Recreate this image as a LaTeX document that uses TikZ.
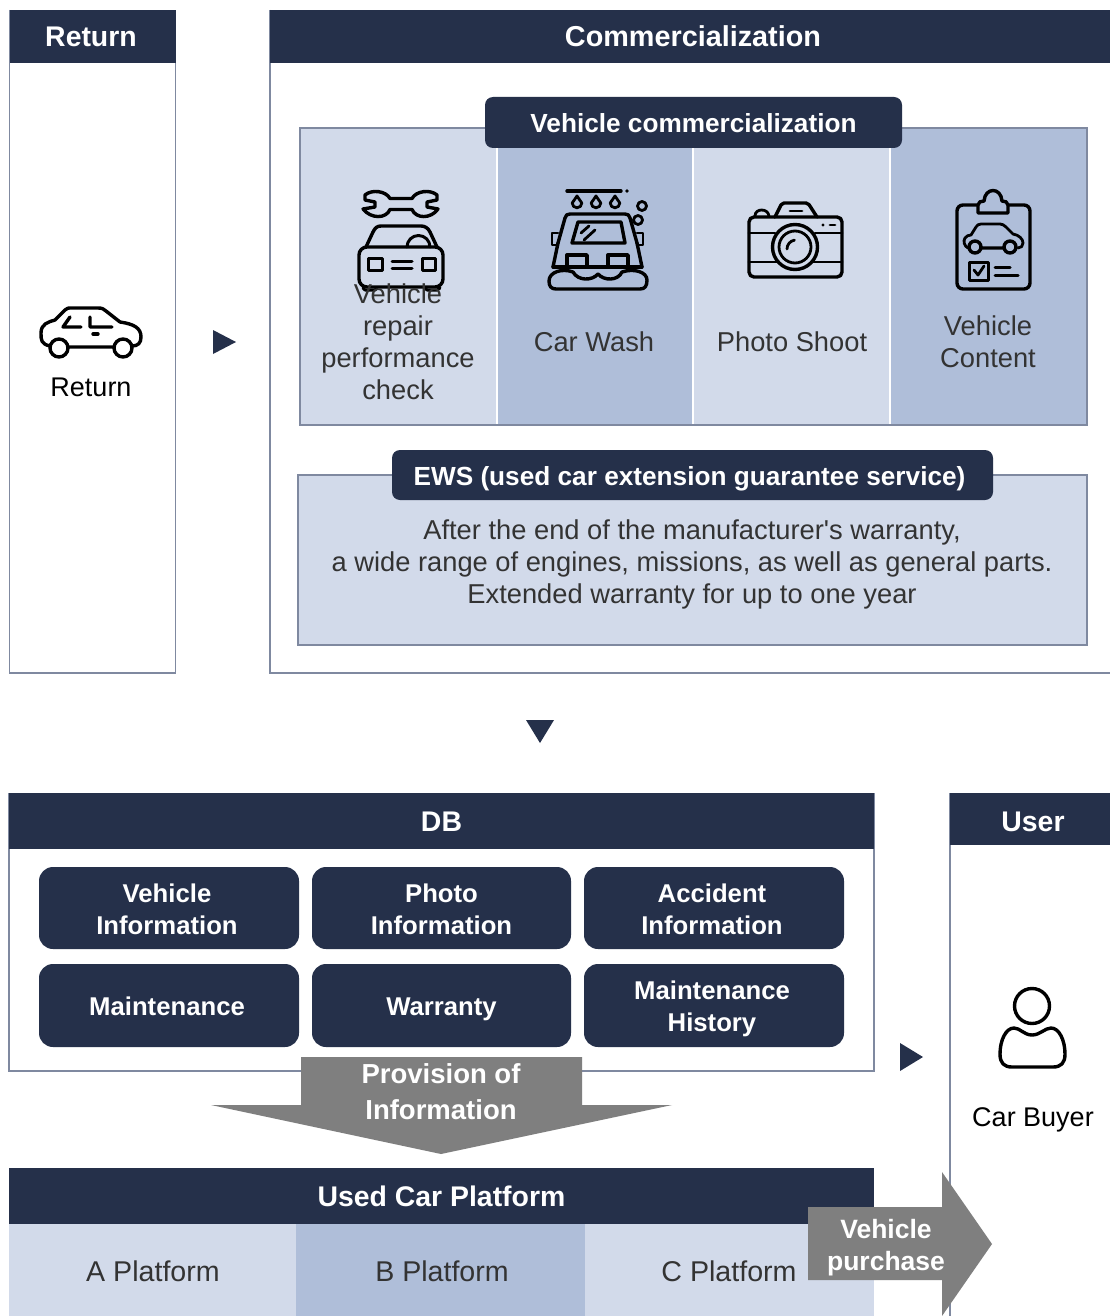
\documentclass[tikz,border=0pt]{standalone}
\usepackage{fontspec}
\setmainfont{Liberation Sans}
\definecolor{navy}{HTML}{25304A}
\definecolor{lightblue}{HTML}{D2DAEA}
\definecolor{midblue}{HTML}{AFBED9}
\definecolor{edge}{HTML}{7F89A0}
\definecolor{bodytext}{HTML}{333333}
\definecolor{grayarrow}{HTML}{7F7F7F}
\newcommand{\rbox}[7]{%
  \pgfmathsetlengthmacro{\rboxw}{(#5-#3)*1pt}%
  \pgfmathsetlengthmacro{\rboxh}{(#6-#4)*1pt}%
  \node[#1,anchor=north west,minimum width=\rboxw,minimum height=\rboxh] (#2) at (#3,#4) {#7};}
\newcommand{\lnstrut}{\rule[-6pt]{0pt}{32pt}}
\newcommand{\nudge}[1]{\hspace*{#1pt}}
\tikzset{
  x=1pt,y=-1pt,
  base/.style={inner sep=0pt,outer sep=0pt,align=center,execute at begin node={\lnstrut},execute at end node={\lnstrut}},
  header/.style={base,fill=navy,text=white,font=\fontsize{28.4}{32}\selectfont\bfseries},
  badge/.style={header,rounded corners=8pt,font=\fontsize{26.2}{32}\selectfont\bfseries},
  dbitem/.style={header,rounded corners=14pt,font=\fontsize{25.7}{32}\selectfont\bfseries},
  band/.style={base,fill=#1},
  label/.style={base,text=bodytext,font=\fontsize{27.3}{32}\selectfont},
  platlabel/.style={base,text=bodytext,font=\fontsize{28.6}{32}\selectfont},
  darklabel/.style={base,text=black,font=\fontsize{27}{32}\selectfont},
  tri/.style={fill=navy,draw=none},
  bigarrow/.style={fill=grayarrow,draw=none},
  arrowtext/.style={base,text=white,font=\fontsize{26.5}{32}\selectfont\bfseries},
  icon/.style={draw=black,line width=3.4pt,line cap=round,line join=round,fill=none},
  iconthin/.style={icon,line width=2.8pt},
}
\begin{document}
\begin{tikzpicture}
\useasboundingbox (0,0) rectangle (1110,1316);
\fill[white] (0,0) rectangle (1110,1316);
\clip (0,0) rectangle (1110,1316);
% Return panel
\draw[edge,line width=1.2pt] (9.5,10) -- (9.5,673) -- (175.5,673) -- (175.5,10);
\rbox{header}{rethead}{10}{10}{176}{63}{\nudge{-4}Return}
% Commercialization panel
\draw[edge,line width=1.2pt] (270,10) -- (270,673) -- (1110,673);
\rbox{header,font=\fontsize{28.8}{32}\selectfont\bfseries}{comhead}{270}{10}{1110}{63}{\nudge{6}Commercialization}
% Vehicle commercialization band
\rbox{band=lightblue}{col1}{300}{128}{496}{425}{}
\rbox{band=midblue}{col2}{498}{128}{692}{425}{}
\rbox{band=lightblue}{col3}{694}{128}{889}{425}{}
\rbox{band=midblue}{col4}{891}{128}{1087}{425}{}
\draw[edge,line width=1.2pt] (300,128) rectangle (1087,425);
\rbox{badge}{vcbadge}{485}{97}{902}{148}{Vehicle commercialization}
% EWS
\rbox{band=lightblue}{ewsbox}{298}{475}{1087}{645}{}
\draw[edge,line width=1.2pt] (298,475) rectangle (1087,645);
\rbox{badge}{ewsbadge}{392}{450}{993}{500}{\nudge{-6}EWS (used car extension guarantee service)}
\node[label] (ewstext) at (692,561) {\lnstrut After the end of the manufacturer\textquotesingle s warranty,\\a wide range of engines, missions, as well as general parts.\\Extended warranty for up to one year};
% triangles
\fill[tri] (213,330) -- (236,342) -- (213,354) -- cycle;
\fill[tri] (526,720) -- (554,720) -- (540,743) -- cycle;
\fill[tri] (900,1043) -- (923,1057) -- (900,1071) -- cycle;
% DB panel
\draw[edge,line width=1.2pt] (9,793) -- (9,1071) -- (874,1071) -- (874,793);
\rbox{header}{dbhead}{9}{793}{874}{849}{DB}
\rbox{dbitem}{db1}{39}{867}{299}{949}{\lnstrut\nudge{-4}Vehicle\\\nudge{-4}Information}
\rbox{dbitem}{db2}{312}{867}{571}{949}{\lnstrut Photo\\Information}
\rbox{dbitem}{db3}{584}{867}{844}{949}{\lnstrut\nudge{-4}Accident\\\nudge{-4}Information}
\rbox{dbitem}{db4}{39}{964}{299}{1047}{\nudge{-4}Maintenance}
\rbox{dbitem}{db5}{312}{964}{571}{1047}{Warranty}
\rbox{dbitem}{db6}{584}{964}{844}{1047}{\lnstrut\nudge{-4}Maintenance\\\nudge{-4}History}
% provision arrow
\fill[bigarrow] (301,1057) -- (582,1057) -- (582,1105) -- (672,1105) -- (441,1154) -- (211,1105) -- (301,1105) -- cycle;
\node[arrowtext,font=\fontsize{27.5}{36}\selectfont\bfseries] (provision) at (441,1091) {\lnstrut Provision of\\Information};
% platform
\rbox{band=lightblue}{plata}{9}{1224}{296}{1316}{}
\rbox{band=midblue}{platb}{296}{1224}{585}{1316}{}
\rbox{band=lightblue}{platc}{585}{1224}{874}{1316}{}
\rbox{header}{plathead}{9}{1168}{874}{1224}{Used Car Platform}
\node[platlabel] (plataT) at (153,1271) {A Platform};
\node[platlabel] (platbT) at (442,1271) {B Platform};
\node[platlabel] (platcT) at (729,1271) {C Platform};
% user
\draw[edge,line width=1.2pt] (950,793) -- (950,1316);
\rbox{header}{userhead}{950}{793}{1110}{845}{\nudge{6}\raisebox{-2pt}{User}}
\node[darklabel] (buyer) at (1033,1116) {Car Buyer};
% purchase arrow
\fill[bigarrow] (808,1207) -- (942,1207) -- (942,1172) -- (992,1244) -- (942,1316) -- (942,1280) -- (808,1280) -- cycle;
\node[arrowtext] (purchase) at (886,1244) {\lnstrut Vehicle\\purchase};
% ---- icons ----
% return car
\draw[icon] (50,346) .. controls (41,344) and (41,340) .. (41,333) .. controls (41,324) and (48,322) .. (55,320) -- (65,310) .. controls (67,308) and (68,308) .. (72,308) -- (98,308) .. controls (102,308) and (104,309) .. (106,311) -- (120,322) .. controls (134,324) and (141,328) .. (141,337) .. controls (141,343) and (138,346) .. (132,346);
\draw[icon] (59,348) circle (9) (123,348) circle (9) (68,347) -- (114,347);
\draw[icon] (70,317) -- (63,327) -- (81,327) (90,317) -- (90,327) -- (112,327);
\draw[icon] (93,334) -- (98,334);
\node[darklabel] (returnT) at (91,386) {Return};
% wrench + car
\draw[icon] (390,198.5) -- (412,198.5) .. controls (416,191) and (430,189) .. (437,195) -- (437,200) -- (427,202) -- (427,207) -- (438,209) .. controls (431,219) and (416,219) .. (412,209.5) -- (390,209.5) .. controls (386,219) and (371,219) .. (363,209) -- (375,207) -- (375,202) -- (365,200) -- (365,195) .. controls (372,189) and (386,191) .. (390,198.5) -- cycle;
\draw[icon] (366,247) -- (373,232) .. controls (375,228) and (377,226) .. (381,226) -- (421,226) .. controls (425,226) and (428,228) .. (430,232) -- (437,247);
\draw[icon,rounded corners=8pt] (359,247) rectangle (443,287);
\draw[icon,line width=3pt] (368,258) rectangle (382,270) (422,258) rectangle (435,270);
\draw[icon,line width=3pt] (392,261) -- (412,261) (392,268) -- (412,268);
\draw[icon,line width=3pt] (363,288) -- (365,290) -- (375,290) -- (377,288) (425,288) -- (427,290) -- (437,290) -- (440,288);
\draw[icon,line width=3pt] (407,247) arc[start angle=180,end angle=360,radius=11.5];
% car wash
\draw[icon] (567,191) -- (621,191);
\fill[black] (627,191) circle (1.8);
\foreach \dx in {577,596,615}{
  \draw[iconthin] (\dx,196) -- (\dx+4.8,203) arc[start angle=0,end angle=180,radius=4.8] -- cycle;
}
\draw[iconthin] (642,206) circle (4.5) (638,220) circle (4.5);
\draw[icon] (558,243) -- (565,218) .. controls (566,215) and (567,214) .. (570,214) -- (625,214) .. controls (628,214) and (629,215) .. (630,218) -- (637,243);
\draw[icon] (578,222) -- (621,222) -- (625,243) -- (572,243) -- cycle;
\draw[iconthin] (581,233) -- (589,226) (584,240) -- (595,230);
\draw[iconthin] (558,233) -- (552,233) -- (552,245) -- (558,245) (637,233) -- (643,233) -- (643,245) -- (637,245);
\draw[icon] (558,243) -- (553,267) (642,267) -- (637,243);
\draw[icon] (553,267) -- (642,267);
\draw[icon] (567,267) -- (567,255) -- (587,255) -- (587,267) (608,267) -- (608,255) -- (628,255) -- (628,267);
\fill[midblue] (560,270) rectangle (636,278);
\draw[icon] (573,272) .. controls (562,268) and (549,272) .. (549,281) .. controls (549,286) and (551,289) .. (556,289) -- (640,289) .. controls (645,289) and (647,286) .. (647,280) .. controls (647,272) and (634,268) .. (622,272) .. controls (618,281) and (604,281) .. (598,274) .. controls (592,281) and (578,281) .. (573,272);
% camera
\draw[icon,rounded corners=5pt] (749,217) rectangle (842,277);
\fill[lightblue] (795,247) circle (24);
\draw[iconthin] (749,233) -- (775,233) (815,233) -- (842,233) (749,262) -- (777,262) (813,262) -- (842,262);
\draw[icon] (795,247) circle (22.5);
\draw[iconthin] (795,247) circle (16);
\draw[iconthin] (787,249) arc[start angle=180,end angle=260,radius=9];
\draw[icon,rounded corners=2pt] (775,217) -- (782,203) -- (808,203) -- (817,217);
\draw[iconthin] (790,211) -- (802,211);
\draw[iconthin] (755,216) .. controls (755,208) and (768,208) .. (769,216);
\fill[black] (823,225) circle (1.6);
\draw[iconthin] (830,225) -- (835,225);
% clipboard
\draw[icon,rounded corners=6pt] (978,205) -- (957,205) -- (957,289) -- (1030,289) -- (1030,205) -- (1008,205);
\draw[icon] (978,213) -- (1008,213) -- (1008,205) .. controls (1008,202) and (1005,201) .. (1002,201) .. controls (1001,187) and (985,187) .. (984,201) .. controls (981,201) and (978,202) .. (978,205) -- cycle;
\draw[iconthin] (968,248) .. controls (964,246) and (963,241) .. (965,238) .. controls (966,236) and (969,235) .. (971,235) -- (976,227) .. controls (977,225) and (979,224) .. (981,224) -- (1000,224) .. controls (1002,224) and (1004,225) .. (1006,227) -- (1013,234) .. controls (1019,235) and (1023,239) .. (1023,243) .. controls (1023,246) and (1021,248) .. (1018,248);
\draw[icon] (975,247) circle (6) (1010,247) circle (6) (981,248) -- (1004,248);
\draw[iconthin,line width=3pt] (969,262) rectangle (988,280);
\draw[iconthin] (974,270) -- (978,275) -- (984,266);
\draw[iconthin,line width=3pt] (995,267) -- (1010,267) (995,275) -- (1018,275);
% person
\draw[icon] (1032,1006) circle (17.5);
\draw[icon] (1032,1035) .. controls (1024,1035) and (1020,1028) .. (1014,1028) .. controls (1006,1028) and (1000,1040) .. (1000,1054) .. controls (1000,1063) and (1004,1067) .. (1012,1067) -- (1053,1067) .. controls (1061,1067) and (1065,1063) .. (1065,1054) .. controls (1065,1040) and (1059,1028) .. (1051,1028) .. controls (1045,1028) and (1040,1035) .. (1032,1035) -- cycle;
% cell labels (above icons)
\node[label] (cell1) at (398,341) {\lnstrut Vehicle\\repair\\performance\\check};
\node[label] (cell2) at (594,341) {Car Wash};
\node[label] (cell3) at (792,341) {Photo Shoot};
\node[label] (cell4) at (988,341) {\lnstrut Vehicle\\Content};
\end{tikzpicture}
\end{document}
